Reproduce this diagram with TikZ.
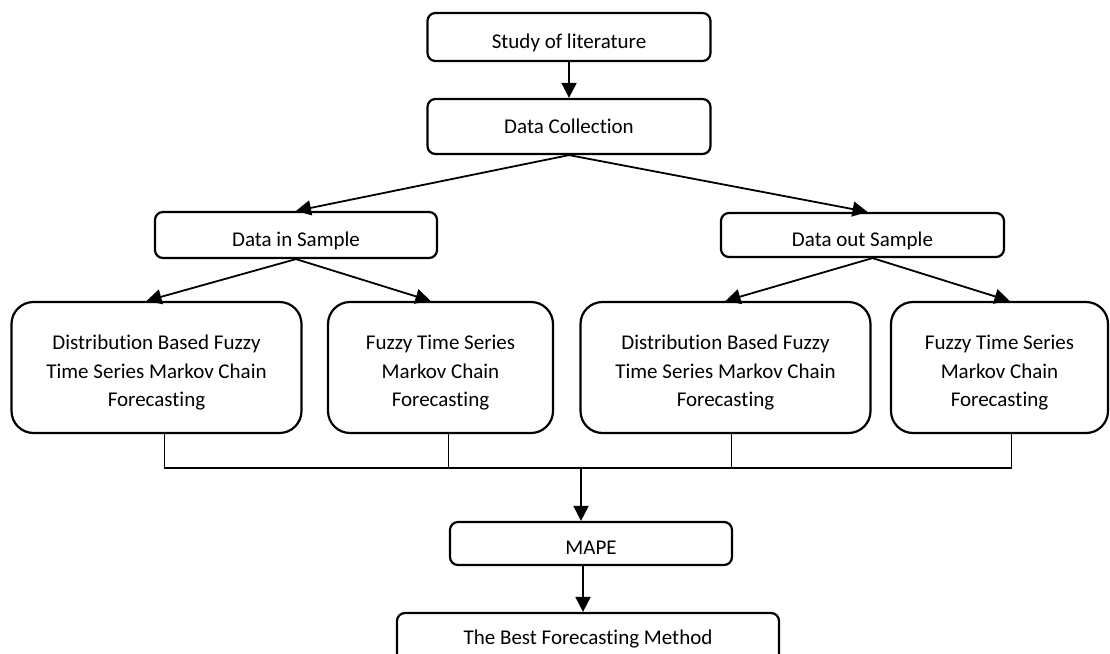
\documentclass[tikz,border=0pt]{standalone}
\usepackage{fontspec}
\setmainfont{Carlito}[Ligatures=NoCommon]
\usetikzlibrary{arrows.meta,positioning}
\newcommand{\lowstrut}{\rule{0pt}{25pt}}

\begin{document}
\begin{tikzpicture}[x=1pt,y=-1pt,>={Triangle[length=15pt,width=15pt]},
  every node/.style={font=\fontsize{21}{28.5}\selectfont},
  box/.style={draw,line width=2.2pt,rounded corners=8pt,inner sep=0pt,align=center},
  lowtext/.style={text height=26pt,text depth=4pt},
  bigbox/.style={box,rounded corners=22pt,minimum height=131pt},
  arr/.style={->,line width=1.8pt},
  bus/.style={line width=1.5pt}]

\useasboundingbox (0,0) rectangle (1110,653);

% Literature and data
\node[box,lowtext,minimum width=283pt,minimum height=48pt] (lit) at (569,37) {Study of literature};
\node[box,minimum width=283pt,minimum height=55pt] (coll) at (569,126.5) {Data Collection};
\draw[arr] (lit) -- (coll);

% Splitting the data
\node[box,lowtext,minimum width=282pt,minimum height=46pt] (insamp) at (296,235) {Data in Sample};
\node[box,lowtext,minimum width=283pt,minimum height=44pt] (outsamp) at (862.5,235) {Data out Sample};
\draw[arr] (coll.south) -- (insamp.north);
\draw[arr] (coll.south) -- ([xshift=5pt]outsamp.north);

% Forecasting methods
\node[bigbox,minimum width=290pt] (distin) at (156.5,367.5) {\lowstrut Distribution Based Fuzzy\\Time Series Markov Chain\\Forecasting};
\node[bigbox,minimum width=225pt] (fuzzin) at (440.5,367.5) {\lowstrut Fuzzy Time Series\\Markov Chain\\Forecasting};
\node[bigbox,minimum width=290pt] (distout) at (725.5,367.5) {\lowstrut Distribution Based Fuzzy\\Time Series Markov Chain\\Forecasting};
\node[bigbox,minimum width=217pt] (fuzzout) at (999.5,367.5) {\lowstrut Fuzzy Time Series\\Markov Chain\\Forecasting};
\draw[arr] (insamp.south) -- ([xshift=-10pt]distin.north);
\draw[arr] (insamp.south) -- ([xshift=-10pt]fuzzin.north);
\draw[arr] ([xshift=10pt]outsamp.south) -- (distout.north);
\draw[arr] ([xshift=10pt]outsamp.south) -- ([xshift=10pt]fuzzout.north);

% Collecting line
\coordinate (bus) at (581,468);
\draw[bus] ([xshift=8pt]distin.south) |- ([xshift=12pt]fuzzout.south |- bus) -- ([xshift=12pt]fuzzout.south);
\draw[bus] ([xshift=8pt]fuzzin.south) -- ([xshift=8pt]fuzzin.south |- bus);
\draw[bus] ([xshift=6pt]distout.south) -- ([xshift=6pt]distout.south |- bus);

% Evaluation
\node[box,lowtext,minimum width=282pt,minimum height=43pt] (mape) at (591,543.5) {MAPE};
\node[box,minimum width=382pt,minimum height=52pt] (best) at (588,639) {The Best Forecasting Method};
\draw[arr] (bus) -- (bus |- mape.north);
\draw[arr] ([xshift=-8pt]mape.south) -- ([xshift=-8pt]mape.south |- best.north);

\end{tikzpicture}
\end{document}
